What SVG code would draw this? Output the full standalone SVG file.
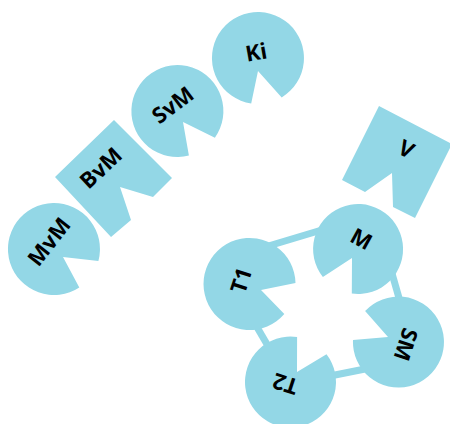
<svg xmlns="http://www.w3.org/2000/svg" width="450" height="424" viewBox="0 0 450 424">
<style>
.n{fill:#93d7e6;stroke:none}
.e{stroke:#93d7e6;stroke-width:7;fill:none}
.t{font-family:"Open Sans","DejaVu Sans",sans-serif;font-weight:700;font-size:22px;fill:#000;text-anchor:middle;dominant-baseline:central}
</style>
<rect width="450" height="424" fill="#fff"/>
<g id="connectors">
<line class="e" x1="265" y1="247" x2="325" y2="229"/>
<line class="e" x1="254" y1="322" x2="268" y2="346"/>
<line class="e" x1="325" y1="377" x2="375" y2="367"/>
<line class="e" x1="389" y1="263" x2="401" y2="305"/>
</g>
<g id="Ki" transform="translate(258,58)">
<path class="n" d="M -6.8 45.5 A 46 46 0 1 1 23.7 39.4 L 0 13 Z"/>
<text class="t" transform="translate(-2,-7) rotate(-10)">Ki</text>
</g>
<g id="SvM" transform="translate(177.5,111)">
<path class="n" d="M 11.4 44.6 A 46 46 0 1 1 37.4 26.7 L 5.5 11 Z"/>
<text class="t" transform="translate(-5.5,-7) rotate(-37)">SvM</text>
</g>
<g id="BvM">
<path class="n" d="M 114 120 L 172 178 L 153 197 L 120 187 L 131 220 L 111 237 L 55 177 Z"/>
<text class="t" transform="translate(100,167) rotate(-43)">BvM</text>
</g>
<g id="MvM" transform="translate(54,249)">
<path class="n" d="M 25.3 38.4 A 46 46 0 1 1 44.4 11.9 L 9 8 Z"/>
<text class="t" transform="translate(-6,-8) rotate(-52)">MvM</text>
</g>
<g id="V">
<path class="n" d="M 379 106 L 452 144 L 415 218 L 393 207 L 392 173 L 365 192 L 342 180 Z"/>
<text class="t" transform="translate(407,148) rotate(27)">V</text>
</g>
<g id="M" transform="translate(358,249)">
<path class="n" d="M -35.1 28.1 A 45 45 0 1 1 -6.2 44.6 L -6 9 Z"/>
<text class="t" transform="translate(4,-11) rotate(29)">M</text>
</g>
<g id="T1" transform="translate(249.5,284)">
<path class="n" d="M 34.8 30.1 A 46 46 0 1 1 46 -1 L 11.5 6 Z"/>
<text class="t" transform="translate(-9.5,-4) rotate(-72)">T1</text>
</g>
<g id="T2" transform="translate(290.5,382)">
<path class="n" d="M 36 -27.8 A 45.5 45.5 0 1 1 6.6 -45 L 6.5 -10 Z"/>
<text class="t" transform="translate(-5.5,3) rotate(198)">T2</text>
</g>
<g id="SM" transform="translate(398.5,342)">
<path class="n" d="M -33.4 -30.9 A 45.5 45.5 0 1 1 -45.5 -2 L -10.5 -5 Z"/>
<text class="t" transform="translate(8.5,3) rotate(108)">SM</text>
</g>
</svg>
